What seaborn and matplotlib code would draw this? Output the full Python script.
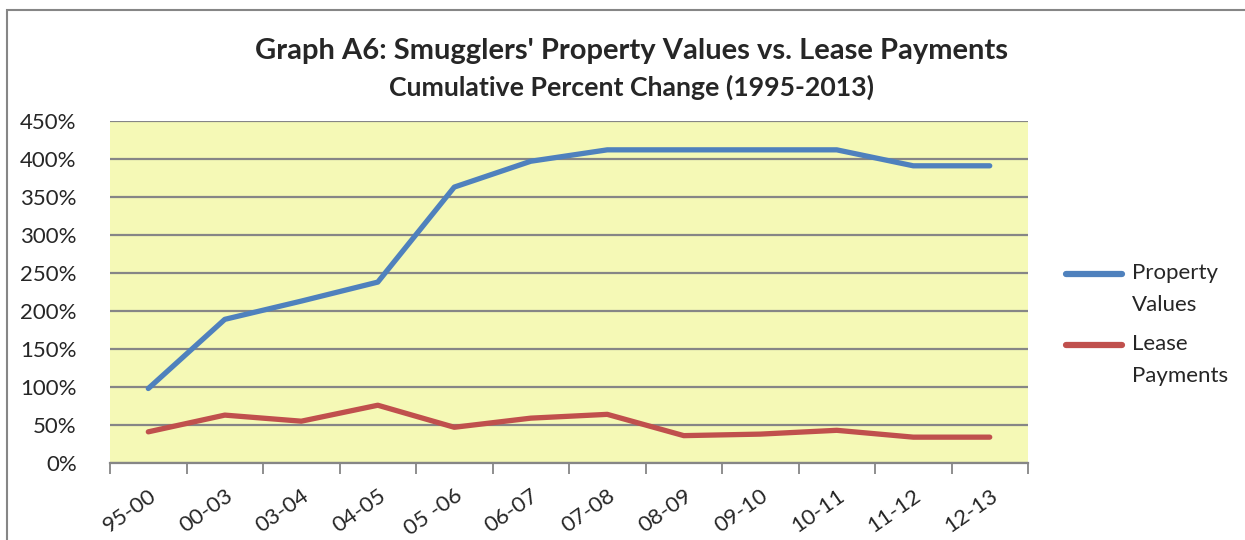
import matplotlib
matplotlib.use("Agg")
import pandas as pd
import seaborn as sns
from matplotlib import pyplot as plt
from matplotlib.patches import Rectangle
from matplotlib.ticker import FuncFormatter

periods = ["95-00", "00-03", "03-04", "04-05", "05 -06", "06-07",
           "07-08", "08-09", "09-10", "10-11", "11-12", "12-13"]
property_values = [98, 189, 213, 238, 363, 397, 412, 412, 412, 412, 391, 391]
lease_payments = [41, 63, 55, 76, 47, 59, 64, 36, 38, 43, 34, 34]
series_names = ["Property\nValues", "Lease\nPayments"]
yticks = [0, 50, 100, 150, 200, 250, 300, 350, 400, 450]

df = pd.DataFrame({
    "period": periods * 2,
    "pct": property_values + lease_payments,
    "series": [series_names[0]] * len(periods) + [series_names[1]] * len(periods),
})

sns.set_style("white")
plt.rcParams["font.family"] = ["Lato", "DejaVu Sans"]

fig = plt.figure(figsize=(12.45, 5.4), dpi=100)
ax = fig.add_axes([0.0884, 0.1426, 0.7373, 0.6334])
ax.set_facecolor("#F5F9B6")

sns.lineplot(data=df, x="period", y="pct", hue="series", sort=False,
             palette=["#4F81BD", "#C0504D"], linewidth=3.8, ax=ax,
             solid_capstyle="round")

ax.set_xlim(-0.5, len(periods) - 0.5)
ax.set_ylim(0, 450)
ax.set_yticks(yticks)
ax.yaxis.set_major_formatter(FuncFormatter(lambda v, p: f"{v:.0f}%"))
ax.yaxis.grid(True, color="#868686", linewidth=1.6)
ax.set_axisbelow(True)
ax.tick_params(axis="y", length=0, pad=24, labelsize=16)

ax.set_xticks(range(len(periods)))
ax.set_xticklabels(periods, rotation=35, ha="right", rotation_mode="anchor")
ax.set_xticks([i - 0.5 for i in range(len(periods) + 1)], minor=True)
ax.tick_params(axis="x", which="major", length=0, pad=16, labelsize=16)
ax.tick_params(axis="x", which="minor", length=8, width=1.3, color="#868686",
               direction="out", bottom=True)
ax.set_xlabel("")
ax.set_ylabel("")

for side in ["top", "right", "left"]:
    ax.spines[side].set_visible(False)
ax.spines["bottom"].set_color("#868686")
ax.spines["bottom"].set_linewidth(1.6)

leg = ax.legend(loc="center left", bbox_to_anchor=(1.02, 0.405), frameon=False,
                fontsize=16, handlelength=2.5, handletextpad=0.45,
                labelspacing=0.85)
# Excel puts the legend line level with the first text line
for h in leg.get_lines():
    h.set_linewidth(4.5)
    h.set_ydata([v + 11 for v in h.get_ydata()])
for t in leg.get_texts():
    t.set_linespacing(1.75)

fig.text(0.507, 0.905, "Graph A6: Smugglers' Property Values vs. Lease Payments",
         ha="center", va="center", fontsize=21, fontweight="bold")
fig.text(0.507, 0.838, "Cumulative Percent Change (1995-2013)",
         ha="center", va="center", fontsize=19.2, fontweight="bold")

fig.patches.append(Rectangle((7 / 1245, -0.1), 1.2, 1.1 - 10 / 540,
                             transform=fig.transFigure, fill=False,
                             edgecolor="#868686", linewidth=1.5))

fig.savefig("out.png", dpi=100)
